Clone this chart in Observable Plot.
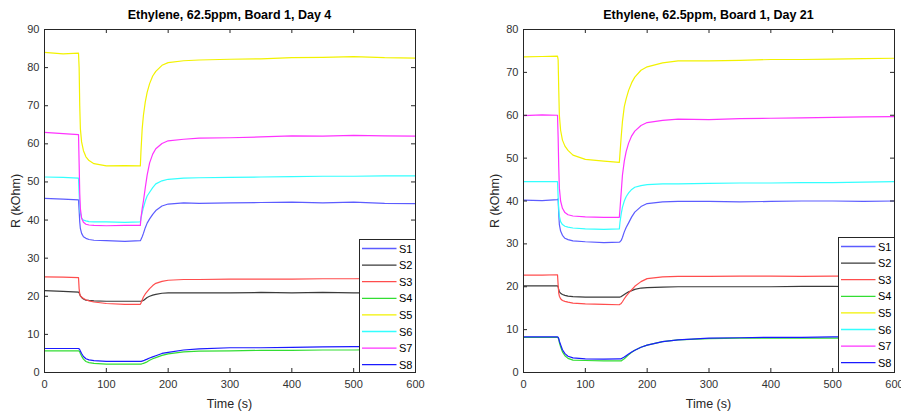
<!DOCTYPE html>
<html><head><meta charset="utf-8">
<script src="https://cdn.jsdelivr.net/npm/d3@7"></script>
<script src="https://cdn.jsdelivr.net/npm/@observablehq/plot@0.6"></script>
<style>
body{margin:0;background:#fff;font-family:"Liberation Sans",Arial,Helvetica,sans-serif;}
#wrap{position:relative;width:901px;height:415px;overflow:hidden;background:#fff;}
.panel{position:absolute;top:0;}
.title{position:absolute;top:8px;font-weight:bold;font-size:12.5px;color:#000;transform:translateX(-50%);white-space:nowrap;}
.xlab{position:absolute;top:397px;font-size:12.5px;color:#262626;transform:translateX(-50%);white-space:nowrap;}
.ylab{position:absolute;font-size:12.5px;color:#262626;white-space:nowrap;transform:translate(-50%,-50%) rotate(-90deg);}
.legend{position:absolute;}
</style></head><body><div id="wrap"></div>
<script>
const time = [0, 30, 55, 56, 57, 58, 60, 63, 67, 72, 80, 100, 130, 155, 156, 158, 160, 163, 166, 170, 175, 180, 190, 200, 225, 250, 300, 350, 400, 450, 500, 550, 600];
const seriesNames = ["S1", "S2", "S3", "S4", "S5", "S6", "S7", "S8"];
const seriesColors = ["#5c5cff", "#3a3a3a", "#ff4d4d", "#33dd33", "#f2f200", "#33ffff", "#ff33ff", "#1a1aff"];
const xTicks = [0, 100, 200, 300, 400, 500, 600];
const yTicksDay4 = [0, 10, 20, 30, 40, 50, 60, 70, 80, 90];
const yTicksDay21 = [0, 10, 20, 30, 40, 50, 60, 70, 80];

// Day 4
const d4S1 = [45.7, 45.5, 45.3, 42.5, 39.5, 37.8, 36.5, 35.6, 35.2, 34.9, 34.7, 34.6, 34.4, 34.6, 34.9, 35.6, 36.5, 38.0, 39.2, 40.3, 41.5, 42.5, 43.7, 44.2, 44.5, 44.4, 44.5, 44.6, 44.7, 44.5, 44.7, 44.4, 44.3];
const d4S2 = [21.5, 21.3, 21.1, 20.9, 20.5, 20.1, 19.7, 19.3, 19.0, 18.9, 18.8, 18.7, 18.7, 18.7, 18.7, 18.8, 18.9, 19.3, 19.7, 20.0, 20.3, 20.5, 20.8, 20.9, 20.9, 20.9, 20.9, 21.0, 20.9, 21.0, 20.9, 20.9, 21.0];
const d4S3 = [25.1, 25.0, 24.9, 22.0, 20.6, 20.1, 19.8, 19.4, 19.1, 18.8, 18.5, 18.1, 17.9, 17.9, 18.2, 19.0, 19.8, 20.6, 21.2, 22.0, 22.8, 23.4, 23.9, 24.2, 24.4, 24.4, 24.5, 24.5, 24.5, 24.6, 24.6, 24.7, 24.7];
const d4S4 = [5.7, 5.7, 5.7, 5.6, 5.4, 5.0, 4.3, 3.5, 2.9, 2.6, 2.4, 2.2, 2.2, 2.2, 2.2, 2.3, 2.4, 2.6, 2.8, 3.2, 3.6, 3.9, 4.5, 4.9, 5.4, 5.6, 5.7, 5.8, 5.8, 5.9, 5.9, 6.0, 6.0];
const d4S5 = [84.0, 83.6, 83.8, 80.0, 70.0, 64.0, 60.5, 58.2, 56.6, 55.6, 54.8, 54.2, 54.3, 54.2, 58.0, 64.0, 67.5, 71.0, 73.5, 75.8, 77.8, 79.0, 80.6, 81.3, 81.8, 82.0, 82.2, 82.3, 82.6, 82.7, 82.9, 82.6, 82.5];
const d4S6 = [51.3, 51.2, 51.0, 47.0, 43.5, 41.8, 40.5, 40.0, 39.8, 39.6, 39.5, 39.5, 39.4, 39.5, 40.5, 42.0, 43.3, 45.0, 46.3, 47.3, 48.5, 49.5, 50.3, 50.7, 51.0, 51.1, 51.2, 51.3, 51.4, 51.5, 51.5, 51.6, 51.6];
const d4S7 = [63.0, 62.7, 62.4, 55.0, 47.0, 43.0, 40.5, 39.4, 38.9, 38.7, 38.6, 38.5, 38.6, 38.6, 40.5, 43.0, 45.0, 48.5, 51.8, 55.0, 57.3, 58.7, 60.1, 60.8, 61.2, 61.5, 61.6, 61.8, 62.1, 62.0, 62.2, 62.1, 62.0];
const d4S8 = [6.3, 6.3, 6.3, 6.2, 6.0, 5.6, 5.0, 4.2, 3.6, 3.3, 3.1, 2.9, 2.9, 2.9, 2.9, 3.0, 3.1, 3.3, 3.5, 3.8, 4.1, 4.4, 5.0, 5.3, 5.9, 6.2, 6.5, 6.5, 6.6, 6.7, 6.8, 6.8, 6.8];

// Day 21
const d21S1 = [40.2, 40.1, 40.3, 40.5, 37.0, 34.5, 33.0, 32.0, 31.3, 31.0, 30.7, 30.5, 30.3, 30.4, 30.5, 30.8, 31.5, 32.8, 33.8, 34.9, 36.3, 37.4, 38.7, 39.4, 39.8, 39.9, 39.9, 39.8, 39.9, 40.0, 40.0, 39.9, 40.0];
const d21S2 = [20.2, 20.2, 20.2, 20.0, 19.3, 18.8, 18.5, 18.2, 18.0, 17.8, 17.7, 17.6, 17.6, 17.6, 17.6, 17.7, 17.9, 18.2, 18.5, 18.8, 19.1, 19.4, 19.7, 19.8, 19.9, 20.0, 20.0, 20.0, 20.0, 20.1, 20.1, 20.0, 20.0];
const d21S3 = [22.7, 22.7, 22.8, 20.5, 18.5, 17.8, 17.2, 16.8, 16.6, 16.4, 16.2, 16.0, 15.9, 15.8, 15.9, 16.1, 16.5, 17.2, 17.8, 18.5, 19.3, 20.1, 21.2, 21.9, 22.3, 22.4, 22.4, 22.5, 22.5, 22.4, 22.5, 22.5, 22.5];
const d21S4 = [8.2, 8.2, 8.2, 8.1, 7.7, 7.0, 6.0, 4.8, 3.9, 3.3, 2.9, 2.8, 2.7, 2.7, 2.7, 2.7, 2.9, 3.2, 3.6, 4.1, 4.7, 5.2, 5.9, 6.4, 7.2, 7.6, 7.9, 8.0, 8.0, 8.0, 8.0, 8.0, 8.0];
const d21S5 = [73.6, 73.7, 73.8, 73.0, 66.0, 60.0, 56.5, 54.2, 52.8, 51.8, 50.7, 49.7, 49.3, 49.0, 51.0, 55.0, 58.5, 62.0, 63.8, 65.8, 67.6, 68.9, 70.5, 71.3, 72.2, 72.7, 72.7, 72.8, 73.0, 73.0, 73.1, 73.2, 73.3];
const d21S6 = [44.5, 44.5, 44.5, 41.0, 38.0, 36.5, 35.2, 34.5, 34.1, 33.9, 33.7, 33.5, 33.4, 33.5, 35.0, 37.0, 38.5, 40.0, 41.0, 41.9, 42.7, 43.2, 43.6, 43.8, 44.0, 44.0, 44.1, 44.2, 44.2, 44.3, 44.3, 44.4, 44.5];
const d21S7 = [59.9, 60.1, 60.0, 55.0, 48.0, 43.0, 40.0, 38.3, 37.3, 36.8, 36.5, 36.3, 36.2, 36.2, 38.0, 42.0, 46.0, 49.3, 51.5, 53.5, 55.2, 56.3, 57.6, 58.3, 58.8, 59.1, 59.0, 59.2, 59.3, 59.4, 59.5, 59.6, 59.7];
const d21S8 = [8.3, 8.3, 8.3, 8.2, 7.9, 7.3, 6.5, 5.3, 4.4, 3.8, 3.4, 3.2, 3.1, 3.2, 3.2, 3.2, 3.4, 3.6, 3.9, 4.3, 4.8, 5.2, 5.9, 6.4, 7.2, 7.6, 8.0, 8.1, 8.2, 8.2, 8.3, 8.3, 8.3];

const panels = [
  {title: "Ethylene, 62.5ppm, Board 1, Day 4", values: [d4S1, d4S2, d4S3, d4S4, d4S5, d4S6, d4S7, d4S8], yTicks: yTicksDay4,
   left: 0, width: 450, marginLeft: 44, marginRight: 35, ylabX: 16, legend: {left: 359, top: 239}},
  {title: "Ethylene, 62.5ppm, Board 1, Day 21", values: [d21S1, d21S2, d21S3, d21S4, d21S5, d21S6, d21S7, d21S8], yTicks: yTicksDay21,
   left: 450, width: 451, marginLeft: 73, marginRight: 7, ylabX: 495, legend: {left: 838, top: 237}}
];

const wrap = document.getElementById("wrap");
const H = 415, MT = 29, MB = 43;
const innerH = H - MT - MB;
const axisColor = "#262626";
const svgNS = "http://www.w3.org/2000/svg";

for (const p of panels) {
  const rows = [];
  seriesNames.forEach((s, i) => time.forEach((t, j) => rows.push({t, v: p.values[i][j], s})));
  const innerW = p.width - p.marginLeft - p.marginRight;
  const yMax = p.yTicks[p.yTicks.length - 1];
  const chart = Plot.plot({
    width: p.width, height: H,
    marginTop: MT, marginBottom: MB, marginLeft: p.marginLeft, marginRight: p.marginRight,
    style: {fontFamily: '"Liberation Sans", Arial, sans-serif', fontSize: "11px", color: "#333", background: "transparent"},
    x: {domain: [0, 600]},
    y: {domain: [0, yMax]},
    color: {domain: seriesNames, range: seriesColors},
    marks: [
      Plot.line(rows, {x: "t", y: "v", z: "s", stroke: "s", strokeWidth: 1.2}),
      Plot.frame({stroke: axisColor, strokeWidth: 1}),
      Plot.tickX(xTicks, {x: d => d, insetTop: innerH - 4, stroke: axisColor}),
      Plot.tickX(xTicks, {x: d => d, insetBottom: innerH - 4, stroke: axisColor}),
      Plot.tickY(p.yTicks, {y: d => d, insetRight: innerW - 4, stroke: axisColor}),
      Plot.tickY(p.yTicks, {y: d => d, insetLeft: innerW - 4, stroke: axisColor}),
      Plot.axisX({ticks: xTicks, tickSize: 0, tickPadding: 8, label: null, fill: "#333"}),
      Plot.axisY({ticks: p.yTicks, tickSize: 0, tickPadding: 5, label: null, fill: "#333"})
    ]
  });
  chart.classList.add("panel");
  chart.style.left = p.left + "px";
  wrap.appendChild(chart);

  const cx = p.left + p.marginLeft + innerW / 2;
  const t = document.createElement("div");
  t.className = "title"; t.textContent = p.title; t.style.left = cx + "px";
  wrap.appendChild(t);
  const xl = document.createElement("div");
  xl.className = "xlab"; xl.textContent = "Time (s)"; xl.style.left = cx + "px";
  wrap.appendChild(xl);
  const yl = document.createElement("div");
  yl.className = "ylab"; yl.textContent = "R (kOhm)"; yl.style.left = p.ylabX + "px"; yl.style.top = (MT + innerH / 2) + "px";
  wrap.appendChild(yl);

  // legend box (drawn as SVG overlay)
  const right = p.left + p.width - p.marginRight;
  const lw = right - p.legend.left, lh = (H - MB) - p.legend.top;
  const lg = document.createElementNS(svgNS, "svg");
  lg.setAttribute("class", "legend");
  lg.setAttribute("width", lw + 1);
  lg.setAttribute("height", lh + 1);
  lg.style.left = p.legend.left + "px";
  lg.style.top = p.legend.top + "px";
  const box = document.createElementNS(svgNS, "rect");
  box.setAttribute("x", 0.5); box.setAttribute("y", 0.5);
  box.setAttribute("width", lw); box.setAttribute("height", lh);
  box.setAttribute("fill", "#fff"); box.setAttribute("stroke", axisColor);
  lg.appendChild(box);
  seriesNames.forEach((s, i) => {
    const yy = 9.5 + i * 16.6;
    const ln = document.createElementNS(svgNS, "line");
    ln.setAttribute("x1", 3); ln.setAttribute("x2", 37.5);
    ln.setAttribute("y1", yy); ln.setAttribute("y2", yy);
    ln.setAttribute("stroke", seriesColors[i]); ln.setAttribute("stroke-width", 1.3);
    lg.appendChild(ln);
    const tx = document.createElementNS(svgNS, "text");
    tx.setAttribute("x", 40); tx.setAttribute("y", yy + 4);
    tx.setAttribute("font-size", 11);
    tx.setAttribute("font-family", '"Liberation Sans", Arial, sans-serif');
    tx.setAttribute("fill", "#000");
    tx.textContent = s;
    lg.appendChild(tx);
  });
  wrap.appendChild(lg);
}
</script>
</body></html>
